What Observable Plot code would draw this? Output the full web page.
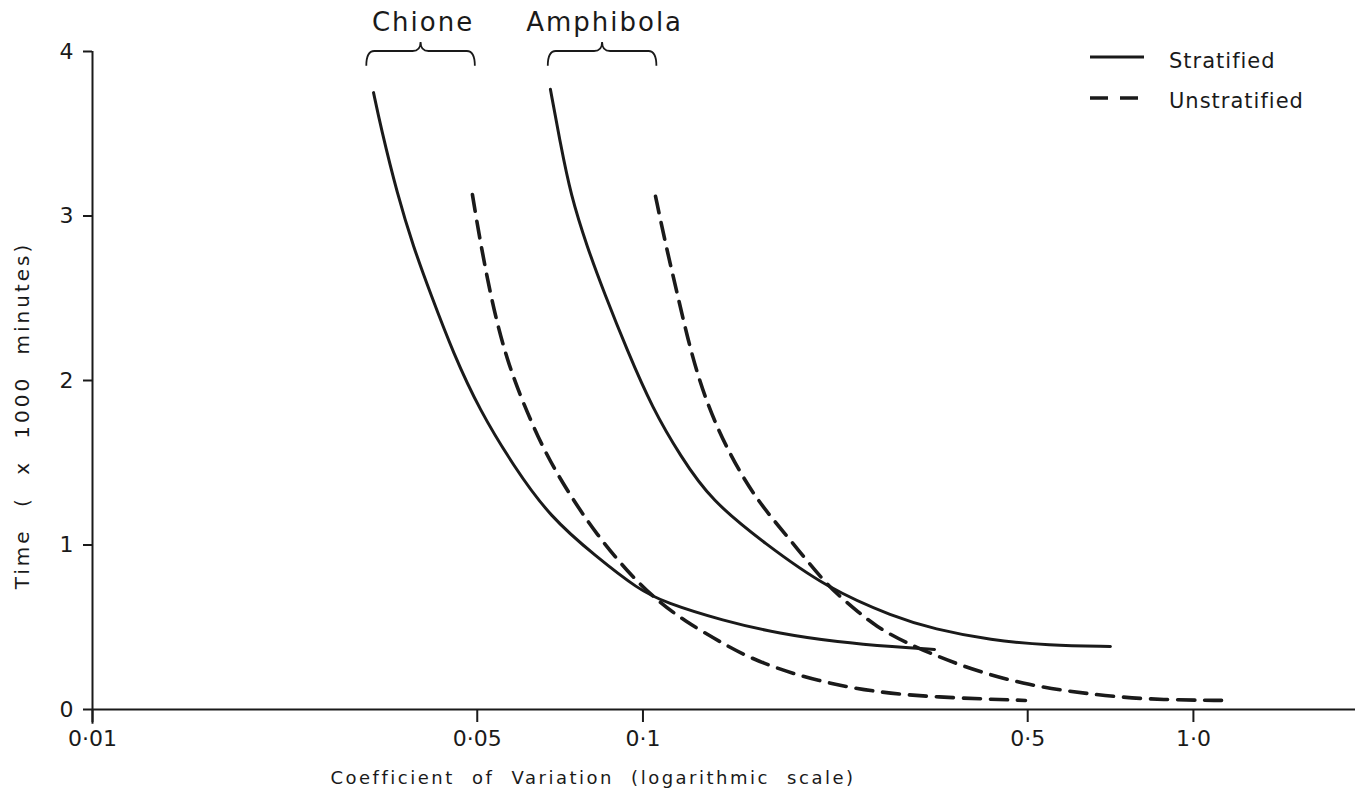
<!DOCTYPE html>
<html>
<head>
<meta charset="utf-8">
<script src="https://cdn.jsdelivr.net/npm/d3@7"></script>
<script src="https://cdn.jsdelivr.net/npm/@observablehq/plot@0.6"></script>
<style>
  html, body { margin: 0; padding: 0; background: #fff; }
  #chart { width: 1355px; height: 798px; overflow: hidden; }
</style>
</head>
<body>
<div id="chart"></div>
<script>
// ---- Data ----
const xTicks = [0.01, 0.05, 0.1, 0.5, 1.0];
const xTickLabels = ["0·01", "0·05", "0·1", "0·5", "1·0"];
const yTicks = [0, 1, 2, 3, 4];

const chioneStratX = [0.0324, 0.0334, 0.0358, 0.0383, 0.0411, 0.0453, 0.0505, 0.0582, 0.0678, 0.0822, 0.0981, 0.1097, 0.1396, 0.1775, 0.2258, 0.2871, 0.3386];
const chioneStratY = [3.75, 3.54, 3.13, 2.81, 2.53, 2.16, 1.82, 1.48, 1.17, 0.93, 0.73, 0.65, 0.54, 0.46, 0.41, 0.38, 0.365];

const chioneUnstratX = [0.0490, 0.0507, 0.0536, 0.0567, 0.0606, 0.0668, 0.0748, 0.0822, 0.0935, 0.1062, 0.1189, 0.1396, 0.1638, 0.2084, 0.2650, 0.3371, 0.4953];
const chioneUnstratY = [3.13, 2.83, 2.42, 2.12, 1.86, 1.54, 1.27, 1.07, 0.84, 0.66, 0.54, 0.40, 0.28, 0.17, 0.105, 0.075, 0.055];

const amphiStratX = [0.0679, 0.0708, 0.0739, 0.0792, 0.0851, 0.0937, 0.1041, 0.1170, 0.1330, 0.1664, 0.2152, 0.2871, 0.3371, 0.4288, 0.5453, 0.7067];
const amphiStratY = [3.77, 3.44, 3.13, 2.81, 2.53, 2.18, 1.83, 1.54, 1.27, 1.01, 0.74, 0.56, 0.49, 0.42, 0.39, 0.383];

const amphiUnstratX = [0.1054, 0.1099, 0.1154, 0.1220, 0.1308, 0.1442, 0.1612, 0.1832, 0.2152, 0.2331, 0.2650, 0.3110, 0.3956, 0.5032, 0.6400, 0.8271, 1.151];
const amphiUnstratY = [3.12, 2.83, 2.53, 2.18, 1.85, 1.54, 1.27, 1.05, 0.76, 0.66, 0.50, 0.38, 0.24, 0.146, 0.095, 0.059, 0.055];

// species CV ranges marked by braces above the chart
const species = ["Chione", "Amphibola"];
const speciesLo = [0.0315, 0.0673];
const speciesHi = [0.0496, 0.106];

const legendLabels = ["Stratified", "Unstratified"];

// ---- Build tables ----
function rows(xs, ys, sp, type) { return xs.map((x, i) => ({x, y: ys[i], series: sp + " " + type, species: sp, type})); }
const strat = [...rows(chioneStratX, chioneStratY, "Chione", "Stratified"), ...rows(amphiStratX, amphiStratY, "Amphibola", "Stratified")];
const unstrat = [...rows(chioneUnstratX, chioneUnstratY, "Chione", "Unstratified"), ...rows(amphiUnstratX, amphiUnstratY, "Amphibola", "Unstratified")];
const speciesRows = species.map((s, i) => ({name: s, lo: speciesLo[i], hi: speciesHi[i], mid: Math.sqrt(speciesLo[i] * speciesHi[i])}));

const ink = "#1a1a1a";
const font = "DejaVu Sans, sans-serif";

const plot = Plot.plot({
  width: 1355,
  height: 798,
  marginLeft: 92,
  marginRight: 0,
  marginTop: 51,
  marginBottom: 89,
  style: {fontFamily: font, fontSize: "20px", background: "#fff", color: ink, overflow: "visible"},
  x: {type: "log", domain: [0.01, 1.97]},
  y: {domain: [0, 4]},
  marks: [
    Plot.ruleY([0], {stroke: ink, strokeWidth: 2}),
    Plot.ruleX([0.01], {y1: -0.09, y2: 4, stroke: ink, strokeWidth: 2}),
    Plot.axisX({ticks: xTicks, tickFormat: (d) => xTickLabels[xTicks.indexOf(d)], tickSize: 13, tickPadding: 8, fontSize: 22, label: null, stroke: ink, strokeWidth: 2}),
    Plot.axisY({ticks: yTicks, tickFormat: (d) => String(d), tickSize: 9, tickPadding: 10, fontSize: 22, label: null, stroke: ink, strokeWidth: 2}),
    Plot.line(strat, {x: "x", y: "y", z: "series", stroke: ink, strokeWidth: 3, curve: "basis"}),
    Plot.line(unstrat, {x: "x", y: "y", z: "series", stroke: ink, strokeWidth: 3.6, strokeDasharray: "17,10", curve: "basis"}),
    Plot.text(speciesRows, {x: "mid", y: 4.175, text: "name", fontSize: 26, fill: ink, textAnchor: "middle", lineAnchor: "middle", dx: 2}),
    Plot.text(["Coefficient of Variation (logarithmic scale)"], {frameAnchor: "bottom", textAnchor: "middle", dx: -131, dy: 69, fontSize: 18, fill: ink, lineAnchor: "middle"}),
    Plot.text(["Time ( x 1000 minutes)"], {frameAnchor: "left", textAnchor: "middle", dx: -70, dy: 35, rotate: -90, fontSize: 20, fill: ink, lineAnchor: "middle"})
  ]
});

document.getElementById("chart").appendChild(plot);

const svg = d3.select(plot);
// letter spacing for axis titles
svg.selectAll("text").filter(function() { return /Coefficient/.test(this.textContent); })
  .style("letter-spacing", "2.5px").style("word-spacing", "9px");
svg.selectAll("text").filter(function() { return /Time/.test(this.textContent); })
  .style("letter-spacing", "3px").style("word-spacing", "12px");
svg.selectAll("text").filter(function() { return species.includes(this.textContent); })
  .style("letter-spacing", "2px");

// braces drawn with the plot's own scales
const xs = plot.scale("x"), ys = plot.scale("y");
const gB = svg.append("g").attr("fill", "none").attr("stroke", ink).attr("stroke-width", 1.8);
speciesRows.forEach(s => {
  const x0 = xs.apply(s.lo), x1 = xs.apply(s.hi), xc = xs.apply(s.mid);
  const yh = ys.apply(4.0), ye = ys.apply(3.91), yp = ys.apply(4.055);
  const r = 8;
  const d = `M${x0},${ye} Q${x0},${yh} ${x0 + r},${yh} L${xc - r},${yh} Q${xc},${yh} ${xc},${yp} Q${xc},${yh} ${xc + r},${yh} L${x1 - r},${yh} Q${x1},${yh} ${x1},${ye}`;
  gB.append("path").attr("d", d);
});

// legend
const gL = svg.append("g").attr("font-family", font).attr("font-size", 21).attr("fill", ink).attr("text-anchor", "start");
const legLineY = [57, 98];
const legTextY = [61, 101];
legendLabels.forEach((lab, i) => {
  gL.append("line").attr("x1", 1090).attr("x2", 1144).attr("y1", legLineY[i]).attr("y2", legLineY[i])
    .attr("stroke", ink).attr("stroke-width", i ? 3.6 : 3)
    .attr("stroke-dasharray", i ? "18,12" : null);
  gL.append("text").attr("x", 1169).attr("y", legTextY[i]).attr("dy", "0.35em")
    .style("letter-spacing", "1px").text(lab);
});
</script>
</body>
</html>
